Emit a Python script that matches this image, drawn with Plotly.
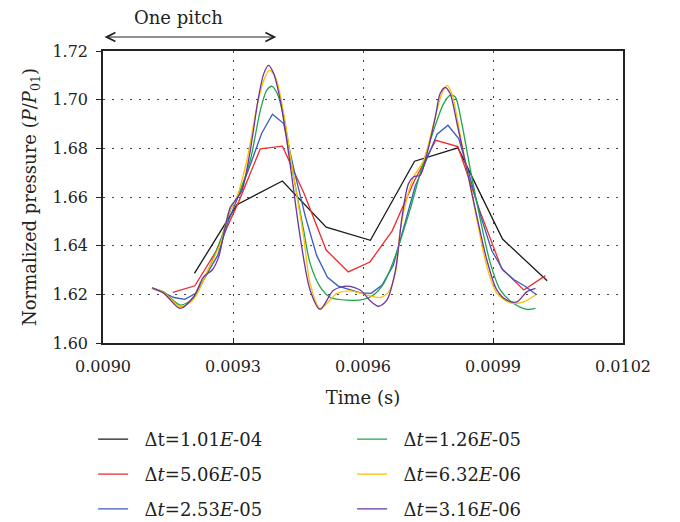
import plotly.graph_objects as go

# ---------------- data ----------------
t_black = [0.009211, 0.009309, 0.009414, 0.009515, 0.009617, 0.009719, 0.009819, 0.009922, 0.010025]
p_black = [1.6286, 1.6568, 1.6666, 1.6476, 1.6422, 1.6747, 1.6802, 1.6427, 1.6256]

t_red = [0.009161, 0.009212, 0.009262, 0.009313, 0.009363, 0.009414, 0.009465, 0.009515, 0.009566,
         0.009616, 0.009667, 0.009718, 0.009768, 0.009819, 0.009869, 0.009920, 0.009971, 0.010021]
p_red = [1.6208, 1.6235, 1.6380, 1.6580, 1.6798, 1.6809, 1.6610, 1.6382, 1.6292,
         1.6333, 1.6460, 1.6665, 1.6833, 1.6807, 1.6546, 1.6306, 1.6218, 1.6277]

t_blue = [0.009113, 0.009138, 0.009164, 0.009189, 0.009214, 0.009240, 0.009265, 0.009290, 0.009315,
          0.009341, 0.009366, 0.009391, 0.009417, 0.009442, 0.009467, 0.009493, 0.009518, 0.009543,
          0.009568, 0.009594, 0.009619, 0.009644, 0.009670, 0.009695, 0.009720, 0.009746, 0.009771,
          0.009796, 0.009821, 0.009847, 0.009872, 0.009897, 0.009923, 0.009948, 0.009973, 0.009999]
p_blue = [1.6224, 1.6208, 1.6187, 1.6179, 1.6204, 1.6286, 1.6361, 1.6505, 1.6614,
          1.6738, 1.6861, 1.6940, 1.6902, 1.6702, 1.6520, 1.6360, 1.6270, 1.6234,
          1.6220, 1.6206, 1.6204, 1.6238, 1.6320, 1.6477, 1.6642, 1.6751, 1.6858,
          1.6895, 1.6840, 1.6680, 1.6520, 1.6380, 1.6300, 1.6261, 1.6234, 1.6200]

t_green = [0.009113, 0.009140, 0.009178, 0.009209, 0.009271, 0.009294, 0.009317, 0.009340, 0.009363,
           0.009378, 0.009390, 0.009402, 0.009417, 0.009440, 0.009463, 0.009478, 0.009501, 0.009525,
           0.009563, 0.009601, 0.009624, 0.009648, 0.009671, 0.009694, 0.009709, 0.009732, 0.009763,
           0.009786, 0.009801, 0.009813, 0.009828, 0.009848, 0.009871, 0.009894, 0.009917, 0.009948,
           0.009978, 0.009998]
p_green = [1.6227, 1.6210, 1.6156, 1.6185, 1.6423, 1.6546, 1.6628, 1.6751, 1.6956,
           1.7039, 1.7055, 1.7025, 1.6929, 1.6683, 1.6464, 1.6327, 1.6231, 1.6187,
           1.6176, 1.6179, 1.6197, 1.6245, 1.6340, 1.6464, 1.6550, 1.6697, 1.6874,
           1.6984, 1.7018, 1.7011, 1.6902, 1.6710, 1.6505, 1.6327, 1.6217, 1.6162,
           1.6138, 1.6142]

t_yellow = [0.009113, 0.009140, 0.009178, 0.009209, 0.009240, 0.009271, 0.009290, 0.009309, 0.009332,
            0.009355, 0.009371, 0.009384, 0.009398, 0.009417, 0.009440, 0.009463, 0.009478, 0.009501,
            0.009540, 0.009571, 0.009609, 0.009640, 0.009659, 0.009675, 0.009686, 0.009702, 0.009717,
            0.009740, 0.009763, 0.009782, 0.009794, 0.009805, 0.009821, 0.009840, 0.009863, 0.009886,
            0.009909, 0.009940, 0.009971, 0.009998]
p_yellow = [1.6227, 1.6208, 1.6149, 1.6180, 1.6292, 1.6409, 1.6532, 1.6600, 1.6751,
            1.6970, 1.7080, 1.7121, 1.7093, 1.6943, 1.6683, 1.6436, 1.6245, 1.6142,
            1.6204, 1.6214, 1.6197, 1.6187, 1.6210, 1.6290, 1.6464, 1.6600, 1.6683,
            1.6751, 1.6902, 1.7025, 1.7059, 1.7025, 1.6888, 1.6710, 1.6505, 1.6313,
            1.6204, 1.6165, 1.6169, 1.6197]

t_purple = [0.009113, 0.009140, 0.009178, 0.009209, 0.009232, 0.009252, 0.009267, 0.009282, 0.009294,
            0.009309, 0.009321, 0.009340, 0.009359, 0.009371, 0.009382, 0.009394, 0.009409, 0.009425,
            0.009440, 0.009455, 0.009478, 0.009501, 0.009532, 0.009563, 0.009594, 0.009617, 0.009636,
            0.009655, 0.009675, 0.009690, 0.009705, 0.009717, 0.009732, 0.009748, 0.009767, 0.009778,
            0.009790, 0.009801, 0.009817, 0.009840, 0.009863, 0.009886, 0.009909, 0.009932, 0.009955,
            0.009978, 0.009998]
p_purple = [1.6227, 1.6205, 1.6142, 1.6190, 1.6272, 1.6300, 1.6354, 1.6477, 1.6559,
            1.6594, 1.6628, 1.6792, 1.7011, 1.7107, 1.7141, 1.7107, 1.6998, 1.6820,
            1.6628, 1.6436, 1.6217, 1.6138, 1.6217, 1.6234, 1.6217, 1.6173, 1.6151,
            1.6176, 1.6299, 1.6518, 1.6655, 1.6683, 1.6690, 1.6779, 1.6929, 1.7025,
            1.7050, 1.7025, 1.6902, 1.6710, 1.6518, 1.6340, 1.6217, 1.6176, 1.6169,
            1.6210, 1.6224]

names = ["\u0394t=1.01<i>E</i>-04", "\u0394<i>t</i>=5.06<i>E</i>-05", "\u0394<i>t</i>=2.53<i>E</i>-05",
         "\u0394<i>t</i>=1.26<i>E</i>-05", "\u0394<i>t</i>=6.32<i>E</i>-06", "\u0394<i>t</i>=3.16<i>E</i>-06"]
colors = ["#1a1a1a", "#ee2a2a", "#3a5cc0", "#1fa64a", "#ffbf00", "#6a35a0"]

x_ticks = [0.0090, 0.0093, 0.0096, 0.0099, 0.0102]
y_ticks = [1.60, 1.62, 1.64, 1.66, 1.68, 1.70, 1.72]
pitch_start, pitch_end = 0.0090, 0.0094

FONT = "DejaVu Serif, Liberation Serif, serif"
TXT = "#222"

series = [(t_black, p_black, "linear"), (t_red, p_red, "linear"), (t_blue, p_blue, "linear"),
          (t_green, p_green, "spline"), (t_yellow, p_yellow, "spline"), (t_purple, p_purple, "spline")]
legend_ids = ["legend", "legend2", "legend3", "legend4", "legend5", "legend6"]

fig = go.Figure()
for i, (tx, py, shape) in enumerate(series):
    fig.add_trace(go.Scatter(x=tx, y=py, mode="lines", name="\u00a0\u00a0" + names[i],
                             line=dict(color=colors[i], width=1.3, shape=shape, smoothing=0.8),
                             legend=legend_ids[i]))

# legend placement: column 1 (first 3), column 2 (last 3)
col_x = [-0.019, 0.479]
row_y = [-0.330, -0.450, -0.569]
leg_layout = {}
for i, lid in enumerate(legend_ids):
    leg_layout[lid] = dict(x=col_x[i // 3], y=row_y[i % 3], xanchor="left", yanchor="middle",
                           orientation="v", bgcolor="rgba(0,0,0,0)",
                           font=dict(family=FONT, size=18, color=TXT))

# page body adds an 8px offset, so the figure is 8px smaller on each axis
fig.update_layout(
    width=672, height=514,
    margin=dict(l=95, r=57, t=43, b=179, autoexpand=False),
    paper_bgcolor="white", plot_bgcolor="white",
    font=dict(family=FONT, size=16, color=TXT),
    showlegend=True,
    **leg_layout,
)

fig.update_xaxes(range=[0.0090, 0.0102], tickvals=x_ticks, tickformat=".4f",
                 showline=True, linecolor="#222", linewidth=1.5, mirror=True,
                 ticks="inside", ticklen=5, tickcolor="#222", ticklabelstandoff=8,
                 showgrid=True, gridcolor="#444", gridwidth=1, griddash="2px,7px",
                 zeroline=False, tickfont=dict(size=16),
                 title=dict(text="Time (s)", font=dict(size=18), standoff=16))
fig.update_yaxes(range=[1.60, 1.72], tickvals=y_ticks, tickformat=".2f",
                 showline=True, linecolor="#222", linewidth=1.5, mirror=True,
                 ticks="outside", ticklen=5, tickcolor="#222", ticklabelstandoff=5,
                 showgrid=True, gridcolor="#444", gridwidth=1, griddash="2px,7px",
                 zeroline=False, tickfont=dict(size=16),
                 title=dict(text="Normalized pressure (<i>P</i>/<i>P</i><sub>01</sub>)",
                            font=dict(size=18), standoff=11))

# "One pitch" double-headed arrow
fig.add_annotation(x=pitch_end, ax=pitch_start, xref="x", axref="x",
                   y=1.048, yref="paper", ay=0, ayref="pixel",
                   text="", showarrow=True, arrowside="end+start",
                   arrowhead=5, startarrowhead=5, arrowsize=1.6, startarrowsize=1.6,
                   arrowwidth=1.1, arrowcolor="#222", standoff=0, startstandoff=0)
fig.add_annotation(x=(pitch_start + pitch_end) / 2 - 0.000026, xref="x", y=1.115, yref="paper",
                   xanchor="center", yanchor="middle",
                   text="One pitch", showarrow=False, font=dict(size=18, color=TXT))

fig.write_html("out.html")
